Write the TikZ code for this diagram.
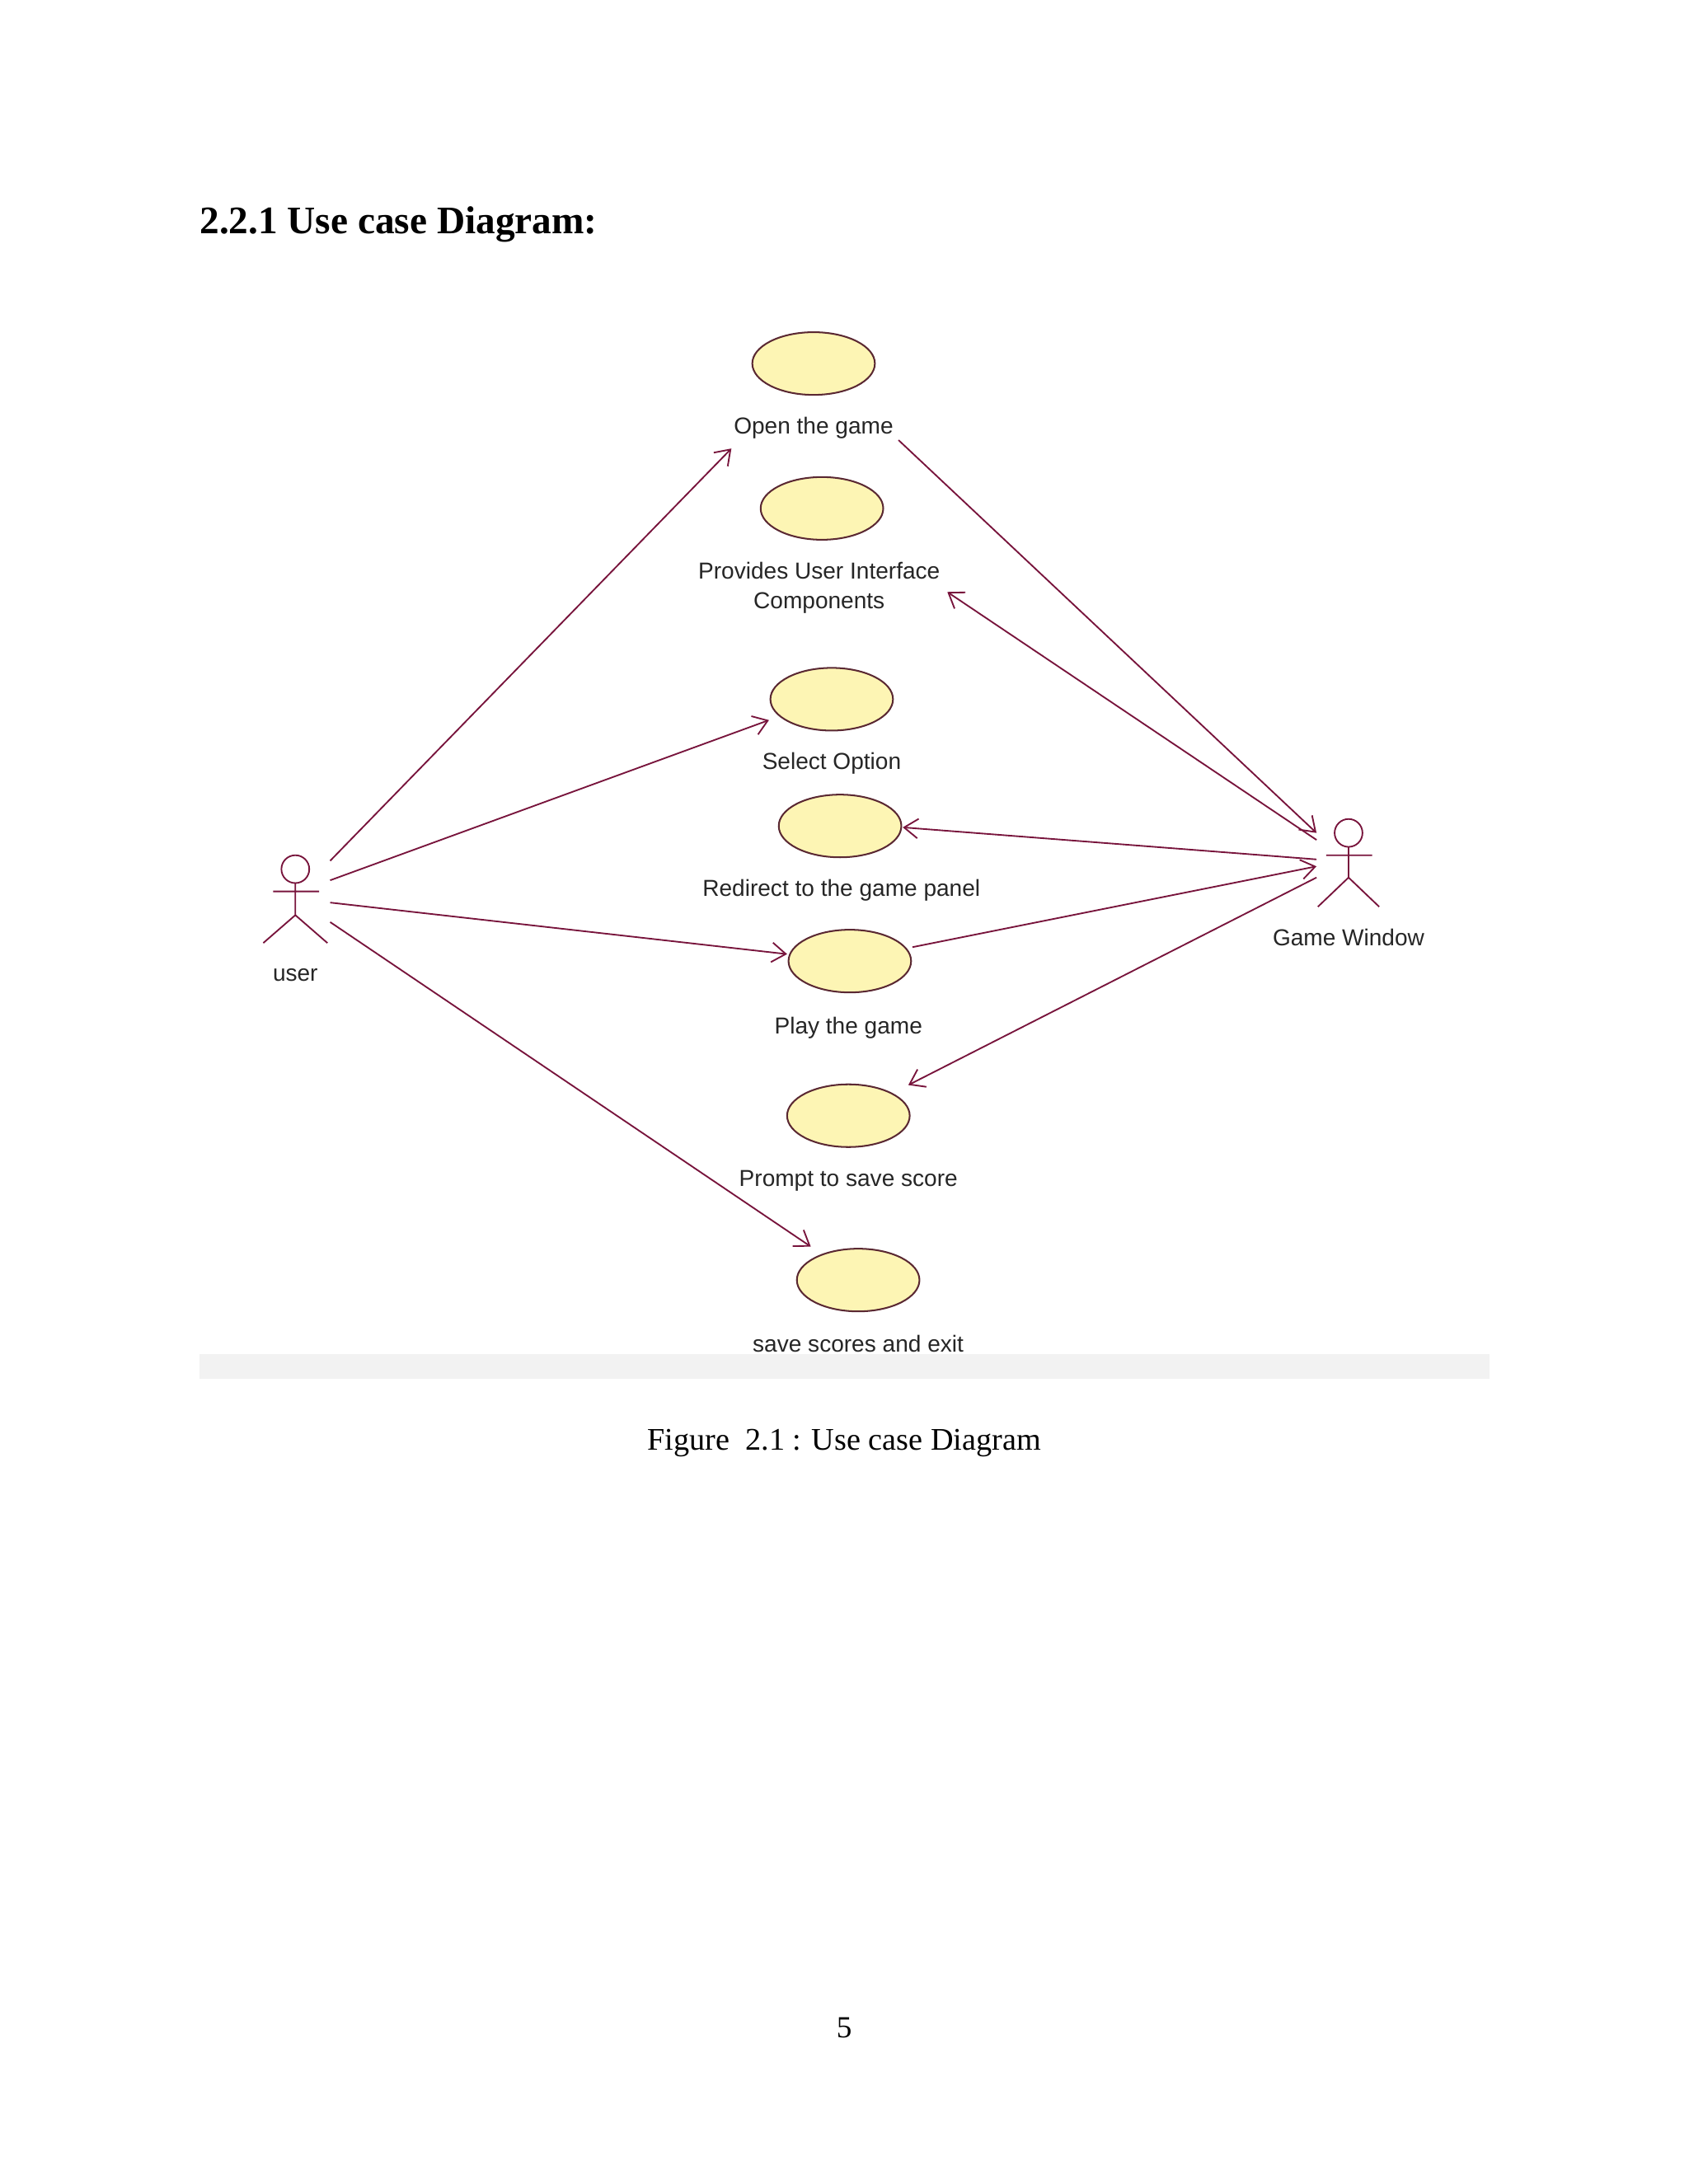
\documentclass[tikz,border=0pt]{standalone}
\usepackage{fontspec}
\setmainfont{Liberation Serif}
\newfontfamily\diagfont{Liberation Sans}
\begin{document}
\begin{tikzpicture}[x=0.5pt,y=-0.5pt,
  uc/.style={ellipse,draw=ucline,fill=ucfill,line width=0.6pt,minimum width=44pt,minimum height=22.5pt,inner sep=0pt},
  lbl/.style={font=\diagfont\fontsize{8.3}{10.5}\selectfont,text=black!85,align=center},
  conn/.style={draw=lnk,line width=0.55pt},
  arr/.style={conn,-{Straight Barb[length=5pt,width=7pt]}},
  actor/.style={draw=lnk,line width=0.55pt}]
\usetikzlibrary{shapes.geometric,arrows.meta}
\definecolor{ucfill}{RGB}{253,245,180}
\definecolor{ucline}{RGB}{90,40,50}
\definecolor{lnk}{RGB}{120,20,60}
\fill[white] (0,0) rectangle (1212,1568);
\node[anchor=base west,inner sep=0pt,font=\bfseries\fontsize{14}{16}\selectfont] (title) at (143,168) {2.2.1 Use case Diagram:};
\fill[black!5] (143,972) rectangle (1069,990);
% use cases
\node[uc] (open) at (584,261) {};
\node[lbl] (openl) at (584,307) {Open the game};
\node[uc] (prov) at (590,365) {};
\node[lbl] (provl) at (588,422) {Provides User Interface\\Components};
\node[uc] (sel) at (597,502) {};
\node[lbl] (sell) at (597,548) {Select Option};
\node[uc] (red) at (603,593) {};
\node[lbl] (redl) at (604,639) {Redirect to the game panel};
\node[uc] (play) at (610,690) {};
\node[lbl] (playl) at (609,738) {Play the game};
\node[uc] (prom) at (609,801) {};
\node[lbl] (proml) at (609,848) {Prompt to save score};
\node[uc] (save) at (616,919) {};
\node[lbl] (savel) at (616,965) {save scores and exit};
% user actor
\draw[actor] (212,624) circle (10);
\draw[actor] (196,640) -- (229,640) (212,634) -- (212,657) -- (189,677) (212,657) -- (235,677);
\node[lbl] (userl) at (212,700) {user};
% game window actor
\draw[actor] (968,598) circle (10);
\draw[actor] (952,614) -- (985,614) (968,608) -- (968,630) -- (946,651) (968,630) -- (990,651);
\node[lbl] (gwl) at (968,673) {Game Window};
% endpoints
\coordinate (u1) at (237,618); \coordinate (u2) at (237,632);
\coordinate (u3) at (237,648); \coordinate (u4) at (237,662);
\coordinate (g1) at (945,598); \coordinate (g2) at (945,603);
\coordinate (g3) at (945,617); \coordinate (g4) at (945,622);
\coordinate (g5) at (945,630);
\coordinate (openE) at (525,322); \coordinate (openS) at (645,316);
\coordinate (provE) at (680,425);
\coordinate (selE) at (552,517);
\coordinate (redE) at (648,594);
\coordinate (playW) at (565,685); \coordinate (playE) at (655,680);
\coordinate (promE) at (652,779);
\coordinate (saveE) at (582,895);
\draw[arr] (u1) -- (openE);
\draw[arr] (u2) -- (selE);
\draw[arr] (u3) -- (playW);
\draw[arr] (u4) -- (saveE);
\draw[arr] (openS) -- (g1);
\draw[arr] (g2) -- (provE);
\draw[arr] (g3) -- (redE);
\draw[arr] (playE) -- (g4);
\draw[arr] (g5) -- (promE);
\node[font=\fontsize{11.3}{13}\selectfont] (cap) at (606,1036) {Figure\ \ 2.1 : Use case Diagram};
\node[font=\fontsize{11}{13}\selectfont] (pg) at (606,1456) {5};
\end{tikzpicture}
\end{document}
